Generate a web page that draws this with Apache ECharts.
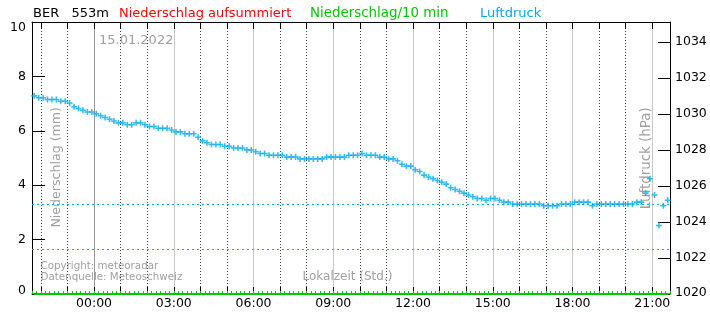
<!DOCTYPE html>
<html>
<head>
<meta charset="utf-8">
<script src="https://cdn.jsdelivr.net/npm/echarts@6/dist/echarts.min.js"></script>
<style>html,body{margin:0;padding:0;background:#fff}#c{width:710px;height:320px}</style>
</head>
<body>
<div id="c"></div>
<script>
// time grid: first reading 21:45 of the previous day, in minutes relative to 00:00
const startMinute = -135;
const stepMinutes = 10;

// Luftdruck (hPa), one value per 10 minutes
const pressure = [
  1031.0, 1030.9, 1030.9, 1030.8, 1030.8, 1030.8, 1030.7, 1030.7, 1030.6, 1030.4,
  1030.3, 1030.2, 1030.1, 1030.1, 1030.0, 1029.9, 1029.8, 1029.7, 1029.6, 1029.5,
  1029.5, 1029.4, 1029.4, 1029.5, 1029.5, 1029.4, 1029.3, 1029.3, 1029.2, 1029.2,
  1029.2, 1029.1, 1029.0, 1029.0, 1028.9, 1028.9, 1028.9, 1028.7, 1028.5, 1028.4,
  1028.3, 1028.3, 1028.3, 1028.2, 1028.2, 1028.1, 1028.1, 1028.1, 1028.0, 1028.0,
  1027.9, 1027.8, 1027.8, 1027.7, 1027.7, 1027.7, 1027.7, 1027.6, 1027.6, 1027.6,
  1027.5, 1027.5, 1027.5, 1027.5, 1027.5, 1027.5, 1027.6, 1027.6, 1027.6, 1027.6,
  1027.6, 1027.7, 1027.7, 1027.7, 1027.8, 1027.7, 1027.7, 1027.7, 1027.6, 1027.6,
  1027.5, 1027.5, 1027.4, 1027.2, 1027.1, 1027.1, 1026.9, 1026.8, 1026.6, 1026.5,
  1026.4, 1026.3, 1026.2, 1026.1, 1025.9, 1025.8, 1025.7, 1025.6, 1025.5, 1025.4,
  1025.3, 1025.3, 1025.2, 1025.3, 1025.3, 1025.2, 1025.1, 1025.1, 1025.0, 1025.0,
  1025.0, 1025.0, 1025.0, 1025.0, 1025.0, 1024.9, 1024.9, 1024.9, 1024.9, 1025.0,
  1025.0, 1025.0, 1025.1, 1025.1, 1025.1, 1025.1, 1024.9, 1025.0, 1025.0, 1025.0,
  1025.0, 1025.0, 1025.0, 1025.0, 1025.0, 1025.0, 1025.1, 1025.1, 1025.6, 1026.4,
  1025.5, 1023.8, 1024.9, 1025.2
];

// Niederschlag aufsummiert (mm)
const precipSum = [
  0,0,0,0,0,0,0,0,0,0,0,0,0,0,0,0,0,0,0,0,0,0,0,0,
  0,0,0,0,0,0,0,0,0,0,0,0,0,0,0,0,0,0,0,0,0,0,0,0,
  0,0,0,0,0,0,0,0,0,0,0,0,0,0,0,0,0,0,0,0,0,0,0,0,
  0,0,0,0,0,0,0,0,0,0,0,0,0,0,0,0,0,0,0,0,0,0,0,0,
  0,0,0,0,0,0,0,0,0,0,0,0,0,0,0,0,0,0,0,0,0,0,0,0,
  0,0,0,0,0,0,0,0,0,0,0,0,0,0,0,0,0,0,0,0,0,0,0,0
];
// Niederschlag/10 min (mm)
const precip10 = [
  0,0,0,0,0,0,0,0,0,0,0,0,0,0,0,0,0,0,0,0,0,0,0,0,
  0,0,0,0,0,0,0,0,0,0,0,0,0,0,0,0,0,0,0,0,0,0,0,0,
  0,0,0,0,0,0,0,0,0,0,0,0,0,0,0,0,0,0,0,0,0,0,0,0,
  0,0,0,0,0,0,0,0,0,0,0,0,0,0,0,0,0,0,0,0,0,0,0,0,
  0,0,0,0,0,0,0,0,0,0,0,0,0,0,0,0,0,0,0,0,0,0,0,0,
  0,0,0,0,0,0,0,0,0,0,0,0,0,0,0,0,0,0,0,0,0,0,0,0
];

// reference levels of the pressure (hPa)
const refLines = [1025.0, 1022.5];

// x axis ticks (minutes from 00:00)
const xLabelValues = [0, 180, 360, 540, 720, 900, 1080, 1260];
const xLabelTexts = ['00:00', '03:00', '06:00', '09:00', '12:00', '15:00', '18:00', '21:00'];
const hourDotted = [-120, -60, 60, 120, 240, 300, 420, 480, 600, 660, 780, 840, 960, 1020, 1140, 1200];
const hourAll = [-120, -60, 0, 60, 120, 180, 240, 300, 360, 420, 480, 540, 600, 660, 720, 780, 840, 900, 960, 1020, 1080, 1140, 1200, 1260];
const xMin = -140, xMax = 1300;

const FONT = 'DejaVu Sans';
const CYAN = '#00aaee';
const GREEN = '#00c800';
const GRAY = '#a0a0a0';
const PLUS = 'path://M0,3.7H10V6.3H0ZM3.7,0H6.3V10H3.7Z';

const times = pressure.map((_, i) => startMinute + i * stepMinutes);
const pressurePts = pressure.map((p, i) => [times[i], p]);
const precipSumPts = precipSum.map((v, i) => [times[i], v]);
const precip10Pts = precip10.map((v, i) => [times[i], v]);

const chart = echarts.init(document.getElementById('c'));

function tstyle(text, x, y, size, color, extra) {
  return Object.assign({
    type: 'text', x: x, y: y, silent: true,
    style: { text: text, fill: color, fontFamily: FONT, fontSize: size, align: 'left', verticalAlign: 'middle' }
  }, extra || {});
}

const splitColors = xLabelValues.map(v => v === 0 ? '#999999' : '#c8c8c8');

chart.setOption({
  animation: false,
  backgroundColor: '#ffffff',
  grid: { left: 32, right: 40, top: 22, bottom: 26 },
  xAxis: [
    {
      type: 'value', position: 'bottom', min: xMin, max: xMax,
      axisLine: { onZero: false, lineStyle: { color: GREEN, width: 1.5 } },
      axisTick: { show: true, inside: true, length: 7, customValues: xLabelValues, lineStyle: { color: '#000' } },
      axisLabel: {
        customValues: xLabelValues, margin: 3, color: '#000', fontFamily: FONT, fontSize: 12.5,
        formatter: v => { const i = xLabelValues.indexOf(v); return i >= 0 ? xLabelTexts[i] : ''; }
      },
      splitLine: { show: true, lineStyle: { color: splitColors, width: 1 } }
    },
    {
      type: 'value', position: 'bottom', min: xMin, max: xMax,
      axisLine: { show: false },
      axisTick: { show: true, inside: true, length: 7, customValues: hourDotted, lineStyle: { color: '#000' } },
      axisLabel: { show: false },
      splitLine: { show: true, lineStyle: { color: '#444', type: [1, 2], width: 1 } }
    },
    {
      type: 'value', position: 'top', min: xMin, max: xMax,
      axisLine: { show: true, onZero: false, lineStyle: { color: '#000' } },
      axisTick: { show: true, inside: true, length: 7, customValues: hourAll, lineStyle: { color: '#000' } },
      axisLabel: { show: false },
      splitLine: { show: false }
    },
    {
      type: 'value', position: 'bottom', min: xMin, max: xMax, interval: 10,
      axisLine: { show: false },
      axisTick: { show: true, inside: true, length: 3, lineStyle: { color: GREEN } },
      axisLabel: { show: false },
      splitLine: { show: false }
    }
  ],
  yAxis: [
    {
      type: 'value', position: 'left', min: 0, max: 10, interval: 2,
      axisLine: { show: true, onZero: false, lineStyle: { color: '#000' } },
      axisTick: { show: true, inside: true, length: 13, lineStyle: { color: '#000' } },
      axisLabel: {
        margin: 6, color: '#000', fontFamily: FONT, fontSize: 12.5,
        formatter: v => v === 10 ? '{t|10}' : (v === 0 ? '{b|0}' : String(v)),
        rich: {
          t: { padding: [11, 0, 0, 0], fontFamily: FONT, fontSize: 12.5, color: '#000' },
          b: { padding: [0, 0, 6, 0], fontFamily: FONT, fontSize: 12.5, color: '#000' }
        }
      },
      splitLine: { show: false }
    },
    {
      type: 'value', position: 'right', min: 1020, max: 1035.1, interval: 2,
      axisLine: { show: true, onZero: false, lineStyle: { color: '#000' } },
      axisTick: { show: true, inside: true, length: 12, lineStyle: { color: '#000' } },
      axisLabel: {
        margin: 5, color: '#000', fontFamily: FONT, fontSize: 12.5, showMaxLabel: false,
        formatter: v => v === 1020 ? '{b|1020}' : String(v),
        rich: { b: { padding: [0, 0, 3, 0], fontFamily: FONT, fontSize: 12.5, color: '#000' } }
      },
      splitLine: { show: false }
    }
  ],
  series: [
    {
      name: 'Niederschlag aufsummiert', type: 'line', xAxisIndex: 0, yAxisIndex: 0,
      data: precipSumPts, showSymbol: false, clip: false, z: 3,
      lineStyle: { color: '#ff0000', width: 2 }
    },
    {
      name: 'Niederschlag/10 min', type: 'line', xAxisIndex: 0, yAxisIndex: 0,
      data: precip10Pts, showSymbol: false, clip: false, z: 4,
      lineStyle: { color: GREEN, width: 2 }
    },
    {
      name: 'Luftdruck', type: 'scatter', xAxisIndex: 0, yAxisIndex: 1,
      data: pressurePts, symbol: PLUS, symbolSize: 6, z: 5,
      itemStyle: { color: CYAN },
      markLine: {
        silent: true, symbol: 'none', label: { show: false },
        lineStyle: { color: CYAN, type: [2, 3], width: 1 },
        data: refLines.map(v => ({ yAxis: v }))
      }
    }
  ],
  graphic: [
    tstyle('BER', 33, 13.5, 13, '#000'),
    tstyle('553m', 71.5, 13.5, 13, '#000'),
    tstyle('Niederschlag aufsummiert', 119, 13.5, 13, '#ff0000'),
    tstyle('Niederschlag/10 min', 310, 13.5, 13.4, GREEN),
    tstyle('Luftdruck', 480, 13.5, 13, CYAN),
    tstyle('15.01.2022', 99, 41, 13, GRAY),
    tstyle('Copyright: meteoradar', 40.5, 266.5, 10.3, GRAY),
    tstyle('Datenquelle: Meteoschweiz', 40.5, 277.5, 10.3, GRAY),
    tstyle('Lokalzeit (Std.)', 302.5, 277, 12, GRAY),
    {
      type: 'text', x: 56.7, y: 167.3, rotation: Math.PI / 2, silent: true,
      style: { text: 'Niederschlag (mm)', fill: GRAY, fontFamily: FONT, fontSize: 12.6, align: 'center', verticalAlign: 'middle' }
    },
    {
      type: 'text', x: 646.7, y: 158.3, rotation: Math.PI / 2, silent: true,
      style: { text: 'Luftdruck (hPa)', fill: GRAY, fontFamily: FONT, fontSize: 13.4, align: 'center', verticalAlign: 'middle' }
    }
  ]
});
</script>
</body>
</html>
